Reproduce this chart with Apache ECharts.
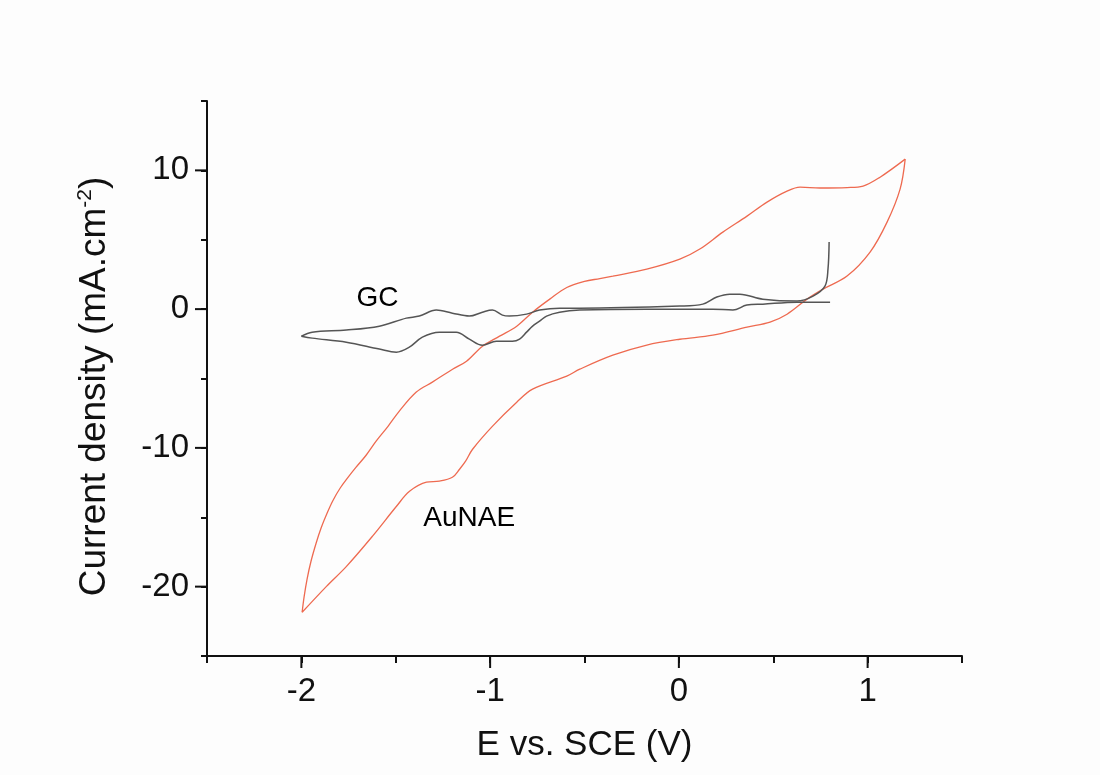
<!DOCTYPE html>
<html>
<head>
<meta charset="utf-8">
<title>CV</title>
<script src="https://cdn.jsdelivr.net/npm/echarts@6/dist/echarts.min.js"></script>
<style>
html, body { margin: 0; padding: 0; background: #fdfdfd; }
#chart { width: 1100px; height: 775px; }
</style>
</head>
<body>
<div id="chart"></div>
<script>
// AuNAE, anodic sweep -2 V -> 1.2 V
const auUpperE = [
  -1.996, -1.985, -1.97, -1.949, -1.922, -1.896, -1.864, -1.832, -1.795, -1.752, -1.71, -1.657, -1.604, -1.54, -1.481, -1.391,
  -1.306, -1.199, -1.125, -1.04, -0.95, -0.859, -0.775, -0.684, -0.594, -0.5, -0.419, -0.35, -0.17, 0.005, 0.111, 0.233,
  0.361, 0.467, 0.573, 0.642, 0.748, 0.891, 0.976, 1.066, 1.199
]
const auUpperI = [
  -21.85, -20.69, -19.47, -18.17, -16.87, -15.79, -14.71, -13.77, -12.91, -12.11, -11.39, -10.53, -9.52, -8.43, -7.35, -5.98,
  -5.26, -4.33, -3.75, -2.67, -1.95, -1.23, -0.22, 0.72, 1.56, 2.0, 2.2, 2.38, 2.88, 3.6, 4.33, 5.55,
  6.7, 7.71, 8.5, 8.79, 8.73, 8.76, 8.87, 9.51, 10.81
]
// AuNAE, cathodic sweep 1.2 V -> -2 V
const auLowerE = [
  1.199, 1.172, 1.103, 1.013, 0.891, 0.764, 0.679, 0.573, 0.483, 0.361, 0.18, 0.005, -0.17, -0.35, -0.525, -0.594,
  -0.775, -0.859, -0.987, -1.093, -1.13, -1.162, -1.2, -1.269, -1.337, -1.427, -1.496, -1.623, -1.761, -1.867, -1.996
]
const auLowerI = [
  10.81, 8.65, 6.27, 4.11, 2.38, 1.44, 0.72, -0.37, -0.94, -1.3, -1.88, -2.17, -2.59, -3.32, -4.33, -4.83,
  -5.77, -6.71, -8.43, -10.1, -10.96, -11.54, -12.12, -12.4, -12.47, -13.13, -14.21, -16.36, -18.54, -19.98, -21.85
]

// GC, cathodic sweep 0.8 V -> -2 V
const gcLowerE = [
  0.801, 0.626, 0.445, 0.36, 0.286, 0.18, -0.17, -0.526, -0.632, -0.701, -0.738, -0.775, -0.807, -0.844, -0.882, -0.967,
  -1.041, -1.11, -1.179, -1.269, -1.359, -1.428, -1.497, -1.587, -1.762, -1.943, -2.0
]
const gcLowerI = [
  0.5, 0.5, 0.36, 0.29, -0.07, 0.0, 0.0, -0.07, -0.22, -0.5, -0.87, -1.23, -1.66, -2.16, -2.31, -2.31,
  -2.6, -2.16, -1.66, -1.66, -2.02, -2.74, -3.1, -2.88, -2.38, -2.09, -1.95
]
// GC, anodic sweep -2 V -> 0.8 V
const gcUpperE = [
  -2.0, -1.943, -1.762, -1.587, -1.444, -1.375, -1.285, -1.2, -1.11, -1.041, -0.988, -0.935, -0.898, -0.807, -0.738, -0.632,
  -0.526, 0.005, 0.127, 0.201, 0.27, 0.323, 0.445, 0.626, 0.711, 0.774, 0.79, 0.796
]
const gcUpperI = [
  -1.95, -1.66, -1.51, -1.23, -0.65, -0.5, -0.07, -0.29, -0.5, -0.22, -0.07, -0.43, -0.5, -0.36, -0.07, 0.07,
  0.07, 0.22, 0.36, 0.87, 1.08, 1.08, 0.72, 0.58, 0.94, 1.66, 2.88, 4.83
]

const curveNames = ['GC', 'AuNAE']
const namePositions = [[-1.597, 0.75], [-1.111, -15.07]]

// labelled (long) ticks; the short ones come from the axes themselves
const xMajorTicks = [-2, -1, 0, 1]
const yMajorTicks = [-20, -10, 0, 10]
const xMin = -2.5
const yMin = -25

const pairs = (xs, ys) => xs.map((x, i) => [x, ys[i]])

const axisFont = 'Liberation Sans, Arial, sans-serif'
const black = '#111'
const auColor = '#ee6a50'
const gcColor = '#555'
const majorLen = 12

const lineSeries = (name, xs, ys, color, width, smooth) => ({
  name: name,
  type: 'line',
  data: pairs(xs, ys),
  showSymbol: false,
  smooth: smooth,
  lineStyle: { color: color, width: width },
  z: 2
})

const majorTickSeries = (data, horizontal) => ({
  type: 'custom',
  silent: true,
  clip: false,
  data: data,
  renderItem: (params, api) => {
    const p = api.coord(horizontal ? [api.value(0), yMin] : [xMin, api.value(0)])
    const shape = horizontal
      ? { x1: p[0], y1: p[1], x2: p[0], y2: p[1] + majorLen }
      : { x1: p[0] - majorLen, y1: p[1], x2: p[0], y2: p[1] }
    return { type: 'line', shape: shape, style: { stroke: black, lineWidth: 2 } }
  },
  z: 5
})

const option = {
  backgroundColor: '#fdfdfd',
  animation: false,
  grid: {
    left: 207,
    right: 138,
    top: 101,
    bottom: 119,
    containLabel: false
  },
  xAxis: {
    type: 'value',
    min: xMin,
    max: 1.5,
    interval: 0.5,
    name: 'E vs. SCE (V)',
    nameLocation: 'middle',
    nameGap: 72,
    nameTextStyle: { fontSize: 35, color: black, fontFamily: axisFont },
    axisLine: { show: true, onZero: false, lineStyle: { color: black, width: 2 } },
    axisTick: { show: true, inside: false, length: 7, lineStyle: { color: black, width: 2 } },
    axisLabel: {
      margin: 19,
      fontSize: 33,
      color: black,
      fontFamily: axisFont,
      formatter: v => (xMajorTicks.indexOf(v) >= 0 ? String(v) : '')
    },
    splitLine: { show: false }
  },
  yAxis: {
    type: 'value',
    min: yMin,
    max: 15,
    interval: 5,
    name: '{n|Current density (mA.cm}{s|-2}{n|)}',
    nameLocation: 'middle',
    nameGap: 92,
    nameTextStyle: {
      padding: [0, 16, 0, 0],
      rich: {
        n: { fontSize: 37, color: black, fontFamily: axisFont },
        s: { fontSize: 21, color: black, fontFamily: axisFont, verticalAlign: 'top', padding: [0, 0, 19, 0] }
      }
    },
    axisLine: { show: true, onZero: false, lineStyle: { color: black, width: 2 } },
    axisTick: { show: true, inside: false, length: 6, lineStyle: { color: black, width: 2 } },
    axisLabel: {
      margin: 18,
      fontSize: 33,
      color: black,
      fontFamily: axisFont,
      formatter: v => (yMajorTicks.indexOf(v) >= 0 ? String(v) : '')
    },
    splitLine: { show: false }
  },
  series: [
    lineSeries('AuNAE', auUpperE, auUpperI, auColor, 1.3, 0.35),
    lineSeries('AuNAE', auLowerE, auLowerI, auColor, 1.3, 0.35),
    lineSeries('GC', gcLowerE, gcLowerI, gcColor, 1.5, 0.35),
    lineSeries('GC', gcUpperE, gcUpperI, gcColor, 1.5, 0.35),
    majorTickSeries(xMajorTicks, true),
    majorTickSeries(yMajorTicks, false),
    {
      // curve labels
      type: 'scatter',
      data: namePositions.map((p, i) => ({ value: p, name: curveNames[i] })),
      symbolSize: 0,
      silent: true,
      itemStyle: { opacity: 1 },
      label: {
        show: true,
        position: 'inside',
        formatter: p => p.name,
        fontSize: 28,
        color: '#000',
        textBorderWidth: 0,
        fontFamily: axisFont
      },
      z: 4
    }
  ]
}

const myChart = echarts.init(document.getElementById('chart'))
myChart.setOption(option)
</script>
</body>
</html>
